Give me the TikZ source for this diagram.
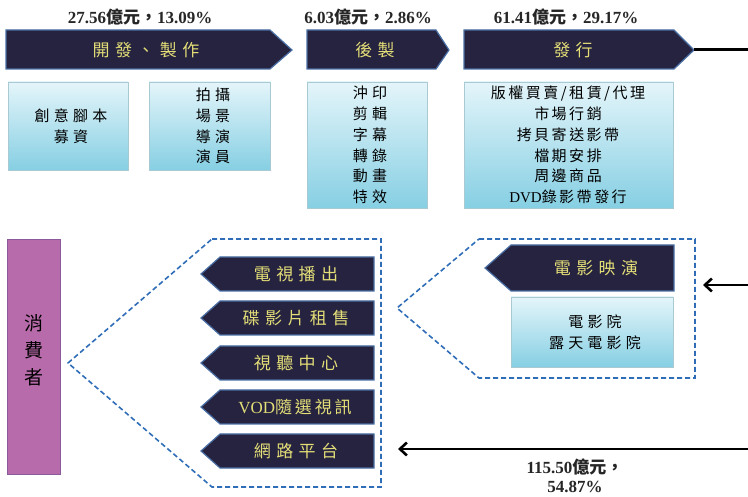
\documentclass[tikz,border=0pt]{standalone}
\usepackage{fontspec}
\setmainfont{Liberation Serif}
\newfontfamily\cjk{Noto Sans CJK TC}
\newfontfamily\cjkw[LetterSpace=28]{Noto Sans CJK TC}
\newfontfamily\cjkb[LetterSpace=32]{Noto Sans CJK TC}
\usetikzlibrary{arrows.meta}
\definecolor{navy}{HTML}{25233F}
\definecolor{bannerEdge}{HTML}{4A6FA5}
\definecolor{gold}{HTML}{E4DE78}
\definecolor{boxTop}{HTML}{E4F5FA}
\definecolor{boxBot}{HTML}{86CFE3}
\definecolor{boxEdge}{HTML}{A9C9D3}
\definecolor{purp}{HTML}{B86BAA}
\definecolor{purpEdge}{HTML}{8A5A9A}
\definecolor{dash}{HTML}{2F6DB8}
\tikzset{
  banner/.style={fill=navy, draw=bannerEdge, line width=1.2pt, line join=miter},
  bantext/.style={text=gold, font=\cjkb\fontsize{17}{19}\selectfont},
  lightbox/.style={top color=boxTop, bottom color=boxBot, draw=boxEdge, line width=0.6pt},
  boxtext/.style={align=center, font=\cjkw\fontsize{15}{20.8}\selectfont, text=black},
  numtext/.style={font=\bfseries\fontsize{17}{22}\selectfont, text=black!85},
  dashpoly/.style={draw=dash, dashed, dash pattern=on 5pt off 3pt, line width=1.6pt},
  flow/.style={line width=2.6pt, -{Straight Barb[length=7pt,width=13pt,line width=2.6pt]}},
}
\begin{document}
\begin{tikzpicture}[x=1pt,y=-1pt]
\useasboundingbox (0,0) rectangle (748,497);
% top labels
\node[numtext] (l1) at (140,17) {27.56{\cjk 億元，}13.09\%};
\node[numtext] (l2) at (368,17) {6.03{\cjk 億元，}2.86\%};
\node[numtext] (l3) at (566,17) {61.41{\cjk 億元，}29.17\%};
% top banners (pointing right)
\draw[banner] (6,30) -- (270,30) -- (292,50) -- (270,69) -- (6,69) -- cycle;
\node[bantext] (b1) at (146,50) {開發、製作};
\draw[banner] (307,30) -- (436,30) -- (449,50) -- (436,69) -- (307,69) -- cycle;
\node[bantext] (b2) at (375,50) {後製};
\draw[banner] (464,30) -- (674,30) -- (694,50) -- (674,69) -- (464,69) -- cycle;
\node[bantext] (b3) at (573,50) {發行};
\coordinate (b3tip) at (694,50);
\coordinate (rightTop) at (748,50);
\draw[line width=3pt] (b3tip) -- (rightTop);
% top boxes
\draw[lightbox] (8,82) rectangle (128,170);
\node[boxtext] (t1) at (71,126) {創意腳本\\募資};
\draw[lightbox] (149,82) rectangle (270,170);
\node[boxtext] (t2) at (213,126) {拍攝\\場景\\導演\\演員};
\draw[lightbox] (307,82) rectangle (427,208);
\node[boxtext] (t3) at (370,145) {沖印\\剪輯\\字幕\\轉錄\\動畫\\特效};
\draw[lightbox] (464,82) rectangle (673,208);
\node[boxtext, font=\cjk\fontsize{15}{20.8}\selectfont] (t4) at (568,145) {版\,權\,買\,賣\,/\,租\,賃\,/\,代\,理\\市\,場\,行\,銷\\拷\,貝\,寄\,送\,影\,帶\\檔\,期\,安\,排\\周\,邊\,商\,品\\{\rmfamily DVD}錄\,影\,帶\,發\,行};
% consumer
\draw[fill=purp, draw=purpEdge, line width=0.8pt] (7,239) rectangle (60,474);
\node[align=center, font=\cjk\fontsize{19}{27}\selectfont] (cons) at (33.5,350) {消\\費\\者};
% dashed polygons
\draw[dashpoly] (212,239) -- (381,239) -- (381,487) -- (212,487) -- (68,363) -- cycle;
\draw[dashpoly] (479,239) -- (695,239) -- (695,378) -- (479,378) -- (397,308) -- cycle;
% left-pointing banners
\foreach \y/\t [count=\i] in {257/電視播出, 301/碟影片租售, 346/視聽中心, 434/網路平台}{
  \draw[banner] (374,\y) -- (220,\y) -- (201,\y+17) -- (220,\y+34) -- (374,\y+34) -- cycle;
  \node[bantext] (c\i) at (296,\y+17) {\t};
}
\draw[banner] (374,390) -- (220,390) -- (201,407) -- (220,424) -- (374,424) -- cycle;
\node[bantext, font=\cjk\fontsize{17}{19}\selectfont] (c5) at (295,407) {{\rmfamily VOD}隨\,選\,視\,訊};
\draw[banner] (674,245) -- (511,245) -- (485,268) -- (511,291) -- (674,291) -- cycle;
\node[bantext] (movie) at (596,268) {電影映演};
\draw[lightbox] (511,297) rectangle (673,367);
\node[boxtext] (cinema) at (595,332) {電影院\\露天電影院};
% arrows from right
\coordinate (r1) at (748,285);
\coordinate (r1end) at (703,285);
\draw[flow] (r1) -- (r1end);
\coordinate (r2) at (748,449);
\coordinate (r2end) at (398,449);
\draw[flow] (r2) -- (r2end);
\node[numtext, inner sep=0pt] (l4) at (575,467) {115.50{\cjk 億元，}};
\node[numtext, inner sep=0pt] (l5) at (575,487) {54.87\%};
\end{tikzpicture}
\end{document}
